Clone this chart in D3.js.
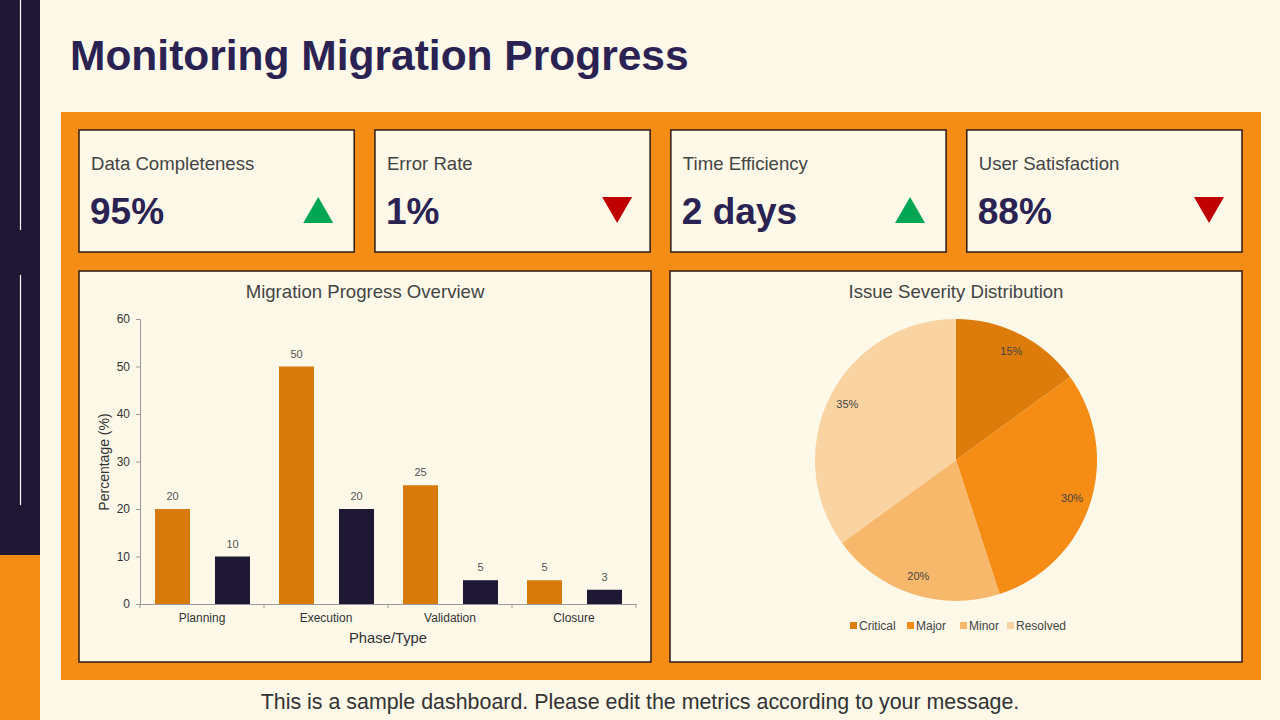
<!DOCTYPE html>
<html>
<head>
<meta charset="utf-8">
<script src="https://cdn.jsdelivr.net/npm/d3@7"></script>
<style>
  body { margin: 0; background: #fdf8e8; }
  svg { display: block; font-family: "Liberation Sans", Arial, sans-serif; }
</style>
</head>
<body>
<svg id="chart" width="1280" height="720"></svg>
<script>
// data
const kpiLabels = ["Data Completeness", "Error Rate", "Time Efficiency", "User Satisfaction"];
const kpiValues = ["95%", "1%", "2 days", "88%"];
const kpiTrend = ["up", "down", "up", "down"];

const phases = ["Planning", "Execution", "Validation", "Closure"];
const seriesA = [20, 50, 25, 5];
const seriesB = [10, 20, 5, 3];
const yTicks = [0, 10, 20, 30, 40, 50, 60];

const severity = ["Critical", "Major", "Minor", "Resolved"];
const severityPct = [15, 30, 20, 35];
const severityColors = ["#de7c0b", "#f58c15", "#f7b86c", "#f9d3a2"];

const navy = "#1e1835";
const orange = "#f58c15";

const svg = d3.select("#chart");

// background + side strip
svg.append("rect").attr("width", 1280).attr("height", 720).attr("fill", "#fdf8e8");
svg.append("rect").attr("x", 0).attr("y", 0).attr("width", 40).attr("height", 555).attr("fill", navy);
svg.append("rect").attr("x", 0).attr("y", 555).attr("width", 40).attr("height", 165).attr("fill", orange);
svg.append("line").attr("x1", 20.5).attr("x2", 20.5).attr("y1", 0).attr("y2", 230)
  .attr("stroke", "#fff").attr("stroke-width", 1.2);
svg.append("line").attr("x1", 20.5).attr("x2", 20.5).attr("y1", 275).attr("y2", 505)
  .attr("stroke", "#fff").attr("stroke-width", 1.2);

// title
svg.append("text").attr("x", 70).attr("y", 70)
  .attr("font-size", 42.5).attr("font-weight", "bold").attr("fill", "#2a2253")
  .text("Monitoring Migration Progress");

// orange panel
svg.append("rect").attr("x", 61).attr("y", 112).attr("width", 1200).attr("height", 568).attr("fill", orange);

// KPI cards
const cardX = d3.scaleBand().domain(d3.range(4)).range([79, 1242]).paddingInner(0.07);
const cards = svg.selectAll("g.card").data(kpiLabels).enter().append("g")
  .attr("class", "card")
  .attr("transform", (d, i) => "translate(" + cardX(i) + ",130)");
cards.append("rect").attr("width", cardX.bandwidth()).attr("height", 122)
  .attr("fill", "#fdf8e8").attr("stroke", "#2a1a10").attr("stroke-width", 1.5);
cards.append("text").attr("x", 12).attr("y", 40).attr("font-size", 18.6).attr("fill", "#444")
  .text(d => d);
cards.append("text").attr("x", 11).attr("y", 94).attr("font-size", 37).attr("font-weight", "bold")
  .attr("fill", "#2a2253").text((d, i) => kpiValues[i]);
cards.append("path")
  .attr("transform", (d, i) => "translate(" + (cardX.bandwidth() - (kpiTrend[i] === "up" ? 36 : 33)) + ",80)")
  .attr("d", (d, i) => kpiTrend[i] === "up" ? "M-15,13L15,13L0,-13Z" : "M-15,-13L15,-13L0,13Z")
  .attr("fill", (d, i) => kpiTrend[i] === "up" ? "#00a651" : "#c00000");

// chart panels
svg.append("rect").attr("x", 79).attr("y", 271).attr("width", 572).attr("height", 391)
  .attr("fill", "#fdf8e8").attr("stroke", "#2a1a10").attr("stroke-width", 1.5);
svg.append("rect").attr("x", 670).attr("y", 271).attr("width", 572).attr("height", 391)
  .attr("fill", "#fdf8e8").attr("stroke", "#2a1a10").attr("stroke-width", 1.5);

// bar chart
svg.append("text").attr("x", 365).attr("y", 298).attr("text-anchor", "middle")
  .attr("font-size", 18.6).attr("fill", "#444").text("Migration Progress Overview");

const x = d3.scaleBand().domain(phases).range([140, 636]);
const y = d3.scaleLinear().domain([0, 60]).range([604, 319]);

const yAxis = svg.append("g").attr("transform", "translate(140,0)")
  .call(d3.axisLeft(y).tickValues(yTicks).tickSize(4).tickPadding(6));
const xAxis = svg.append("g").attr("transform", "translate(0,604)")
  .call(d3.axisBottom(x).tickSize(0).tickPadding(9));
xAxis.selectAll(".tick")
  .append("line").attr("x1", x.bandwidth() / 2).attr("x2", x.bandwidth() / 2).attr("y2", 4);
xAxis.append("line").attr("x1", 140).attr("x2", 140).attr("y2", 4);
[yAxis, xAxis].forEach(a => {
  a.selectAll("path.domain").attr("stroke", "#999");
  a.selectAll("line").attr("stroke", "#999");
  a.selectAll("text").attr("font-size", 12).attr("fill", "#333")
    .attr("font-family", "Liberation Sans, Arial, sans-serif");
});

const barW = 35;
const bars = [
  { vals: seriesA, off: 15, color: "#d97b0b" },
  { vals: seriesB, off: 75, color: navy }
];
bars.forEach(s => {
  svg.append("g").selectAll("rect").data(phases).enter().append("rect")
    .attr("x", d => x(d) + s.off).attr("width", barW)
    .attr("y", (d, i) => y(s.vals[i])).attr("height", (d, i) => y(0) - y(s.vals[i]))
    .attr("fill", s.color);
  svg.append("g").selectAll("text").data(phases).enter().append("text")
    .attr("x", d => x(d) + s.off + barW / 2).attr("y", (d, i) => y(s.vals[i]) - 9)
    .attr("text-anchor", "middle").attr("font-size", 11).attr("fill", "#555")
    .text((d, i) => s.vals[i]);
});

svg.append("text").attr("transform", "translate(109,462) rotate(-90)")
  .attr("text-anchor", "middle").attr("font-size", 14).attr("fill", "#333").text("Percentage (%)");
svg.append("text").attr("x", 388).attr("y", 643).attr("text-anchor", "middle")
  .attr("font-size", 14.8).attr("fill", "#333").text("Phase/Type");

// pie chart
svg.append("text").attr("x", 956).attr("y", 298).attr("text-anchor", "middle")
  .attr("font-size", 18.6).attr("fill", "#444").text("Issue Severity Distribution");

const pie = d3.pie().sort(null).value(d => d)(severityPct);
const arc = d3.arc().innerRadius(0).outerRadius(141);
const labelArc = d3.arc().innerRadius(122).outerRadius(122);
const pg = svg.append("g").attr("transform", "translate(956,460)");
pg.selectAll("path").data(pie).enter().append("path")
  .attr("d", arc).attr("fill", (d, i) => severityColors[i]);
pg.selectAll("text").data(pie).enter().append("text")
  .attr("transform", d => "translate(" + labelArc.centroid(d) + ")")
  .attr("text-anchor", "middle").attr("dy", "0.35em")
  .attr("font-size", 11).attr("fill", "#444")
  .text((d, i) => severityPct[i] + "%");

// legend
const legX = [850, 907, 960, 1007];
const leg = svg.append("g").selectAll("g").data(severity).enter().append("g")
  .attr("transform", (d, i) => "translate(" + legX[i] + ",626)");
leg.append("rect").attr("x", 0).attr("y", -4).attr("width", 7).attr("height", 7)
  .attr("fill", (d, i) => severityColors[i]);
leg.append("text").attr("x", 9).attr("y", 4).attr("font-size", 12).attr("fill", "#444").text(d => d);

// footer
svg.append("text").attr("x", 640).attr("y", 709).attr("text-anchor", "middle")
  .attr("font-size", 21.4).attr("fill", "#333")
  .text("This is a sample dashboard. Please edit the metrics according to your message.");
</script>
</body>
</html>
